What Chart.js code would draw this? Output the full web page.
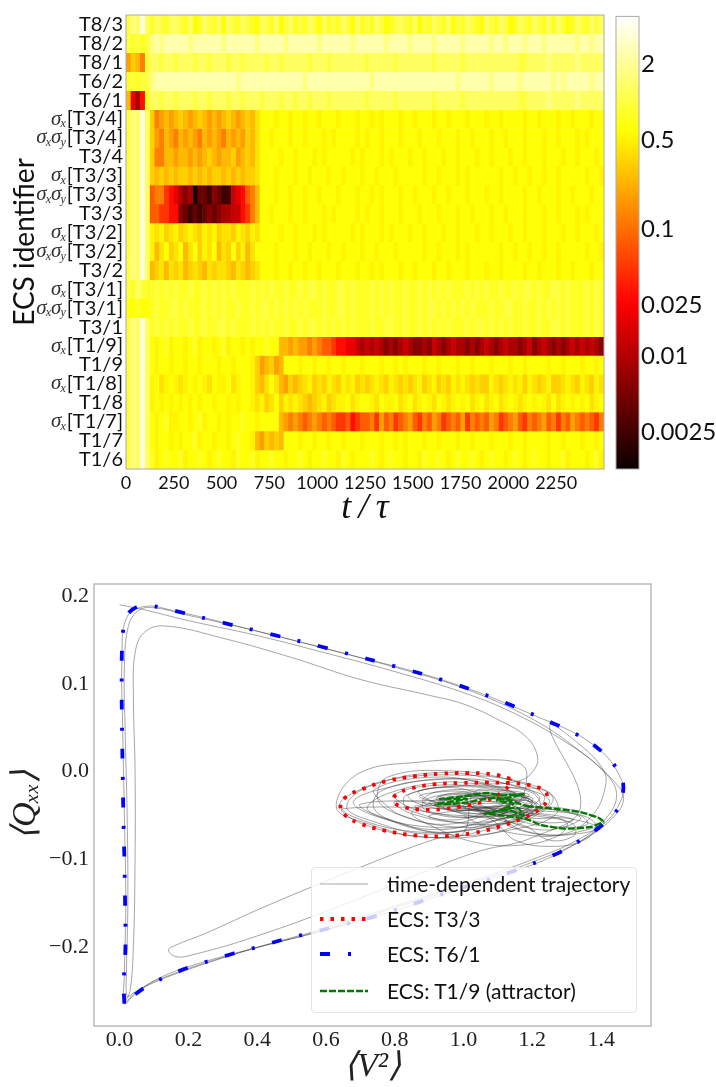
<!DOCTYPE html>
<html>
<head>
<meta charset="utf-8">
<script src="https://cdn.jsdelivr.net/npm/chart.js@4"></script>
<style>
  html, body { margin: 0; padding: 0; background: #fff; }
  #page { position: relative; width: 716px; height: 1087px; overflow: hidden; }
  canvas { position: absolute; filter: blur(0.45px); }
  #legend { position: absolute; left: 311px; top: 867px; width: 326px; height: 146px; box-sizing: border-box;
    background: rgba(255,255,255,0.8); border: 1px solid #e4e4e4; border-radius: 4px;
    font-family: "Lato", sans-serif; font-size: 21px; color: #111; filter: blur(0.3px); }
  .row { position: absolute; left: 8px; height: 30px; line-height: 30px; white-space: nowrap; }
  .row svg { position: absolute; left: 0; top: 11px; }
  .row span { position: absolute; left: 67px; }
</style>
</head>
<body>
<div id="page">
  <canvas id="heat" width="612" height="530" style="left:0;top:0"></canvas>
  <canvas id="bar" width="116" height="530" style="left:600px;top:0"></canvas>
  <canvas id="phase" width="716" height="527" style="left:0;top:560px"></canvas>
  <div id="legend"></div>
</div>
<script>
// ---------- top panel: distance to each ECS over time ----------
const rowLabels = ['T8/3', 'T8/2', 'T8/1', 'T6/2', 'T6/1', '[T3/4]', '[T3/4]', 'T3/4', '[T3/3]', '[T3/3]', 'T3/3', '[T3/2]',
  '[T3/2]', 'T3/2', '[T3/1]', '[T3/1]', 'T3/1', '[T1/9]', 'T1/9', '[T1/8]', 'T1/8', '[T1/7]', 'T1/7', 'T1/6'];
const rowPrefix = ['', '', '', '', '', 'x', 'xy', '', 'x', 'xy', '', 'x', 'xy', '', 'x', 'xy', '', 'x', '', 'x', '', 'x', '', ''];
const timeTicks = [0, 250, 500, 750, 1000, 1250, 1500, 1750, 2000, 2250];
const barTicks = [0.0025, 0.01, 0.025, 0.1, 0.5, 2];
const binWidth = 25;

// one letter per 25 time units, looked up in heatLevels
const heatLevels = [0.0016, 0.0025, 0.004, 0.006, 0.009, 0.013, 0.02, 0.03, 0.05, 0.08, 0.12, 0.18, 0.25, 0.33, 0.42, 0.52,
  0.62, 0.8, 1.0, 1.3, 1.7, 2.4, 3.5];
const t83 = 'sutwt rtsrt tsrtq rtsrt qtsrt srqts rtqst rsrts qtrsr tsqtr srtsq rstsr tqsrt srtqs rtsrq tsrts qrtsr tsrtr tsqrt srtst';
const t82 = 'srsrs uvuvv vvvuv vvvvv uvvvv vvuvv vvvuv vvvvv uvvvv vvuvv vvvvu vvvvu vvvvu vvvvv uvvvv vuvvu vvvuv vvuvv vvvvu vvuvv';
const t81 = 'lnmks ttstt sttts ttstt tstts tttts ttstt tttst ttstt ttttt stttt tsttt tttts ttttt stttt ttttt ttsst tttut ttttu ttttt';
const t62 = 'rsrss uvvvv vvvvv vvvvv vvvuv vvvvv vvvvv vvuvv vvvvv vvvvv vuvvv vvvvv vvvvv vvvvu vvvvv vuvvv vvuvv vvvvu vuvvv vvuvv';
const t61 = 'mgehr ttstt sttts ttstt tstts tttst ttstt sttst ttstt ttttt stttt tsttt tttts ttttt stttt ttttt ttsst tttut ttttu ttttt';
const sxT34 = 'sutwt nklml mnmlm nmlml mnmlm nmoqq qpqqp qqpqq pqqqp qqqpq qpqpq qqpqq pqqqp qqpqq qpqqq pqqpq qqqpq qpqqq pqqpq qqpqq';
const sxyT34 = 'sutwt nlkml kmlml kmlml kmlml nmoqq pqqqp qqpqq qpqpq qqqpq pqqpq qqpqq qpqqq pqqqp qqpqq qpqqp qqqpq qqpqq pqqqp qpqqq';
const t34 = 'sutwt nkkmm lmmlm lmnml mmnlm nmoqq qqpqq pqqqp qpqqq qqpqp qqqpq pqqqp qqpqq qpqqp qqqpq qpqqq pqqpq qqpqq qpqqp qqqpq';
const sxT33 = 'sutwt nmnmn mnnmn mnmnn mnmnm nnoqq qpqqq pqqpq qqpqq pqqqp qqpqq qpqqq qqpqq pqqqp qpqqq qqqpq qpqqp qqpqq pqqqq qpqqp';
const sxyT33 = 'sutwt jkkih gedea ccbdc bbfgh jkmqq qpqqp qqpqq pqqqp qqqpq qpqpq qqpqq pqqqp qqpqq qpqqq pqqpq qqqpq qpqqq pqqpq qqpqq';
const t33 = 'sutwt jjiih hdcbc bcdcd eeffh ikmqq pqqqp qqpqq qpqpq qqqpq pqqpq qqpqq qpqqq pqqqp qqpqq qpqqp qqqpq qqpqq pqqqp qpqqq';
const sxT32 = 'sutwt popno pnopo npopn oonpo npoqq qqpqq pqqqp qpqqq qqpqp qqqpq pqqqp qqpqq qpqqp qqqpq qpqqq pqqpq qqpqq qpqqp qqqpq';
const sxyT32 = 'sutwt pmoqn oqmoq npoqm onqnp moqqq qpqqq pqqpq qqpqq pqqqp qqpqq qpqqq qqpqq pqqqp qpqqq qqqpq qpqqp qqpqq pqqqq qpqqp';
const t32 = 'sutwt mnomo nomno nmono onmon mnoqq qpqqp qqpqq pqqqp qqqpq qpqpq qqpqq pqqqp qqpqq qpqqq pqqpq qqqpq qpqqq pqqpq qqpqq';
const sxT31 = 'srtsr rsrsr srrsr rsrsr srsrr rsrsr srrsr rsrss rsrrs srsrr rsrsr srrsr rsrsr srsrr rsrsr srrsr rsrss rsrrs srsrr rsrsr';
const sxyT31 = 'qqrqq rsrrs srsrr rsrsr srrsr rsrss rsrsr srsrr rsrrs srsrr rsrsr srrsr rsrss rsrsr srsrr rsrrs srrsr rsrsr srsrr rsrsr';
const t31 = 'sutwt rsrsr srrsr rsrrs srsrr rsrsr srrsr rsrss rsrsr srsrr rsrrs srrsr rsrsr srsrr rsrss rsrsr srrsr rsrrs srsrr rsrsr';
const sxT19 = 'sutwt qpqrp qqpqr pqqpq rpqqp qpqqr qqmml mllkl kjjih hggfe fefed edefe ddedf edefe edede fedef eedef defed edefe fefed';
const t19 = 'sutwt qpqqp qqpqq pqqqp qqpqq qpnlm nlmqq qpqqp qqpqq pqqqp qqqpq qpqpq qqpqq pqqqp qqpqq qpqqq pqqpq qqqpq qpqqq pqqpq';
const sxT18 = 'sutwt pqopq popqp qpoqp pqopq qpnmo qomln mnopn onpon popno nopon ponon opnop nonpo ponon npono popnp onopn nopon ponpo';
const t18 = 'sutwt pqpqp qpqpq pqqpq qpqpq qpopn oqnpo ponmn opnop pqopq qpoqp pqopq opqpo qpopq pqopq opqop qpopq pqpoq opqpq pqopq';
const sxT17 = 'sutwt qpqrp pqqpq rpqqp qpqqr qqpqq qqmlk lkjkl kjkji ijhij jkilj kijkl jikjl kijkj likjk jlkij kljik jkljk ikjlk jkjik';
const t17 = 'sutwt qpqqp qpqqr pqqpq qpqrq qpmln mnmqq qpqqp qqpqq pqqqp qqqpq qpqpq qqpqq pqqqp qqpqq qpqqq pqqpq qqqpq qpqqq pqqpq';
const t16 = 'sutwt rpqrq qrpqq rqpqr qqprq qrpqq rqqpq qrqpq qrqqp rqpqq qrqpq rqqpq qprqq rqpqr qqrqp qrqqp qrqpq rqqpq qrpqq qpqrp';
const heatRows = [t83, t82, t81, t62, t61, sxT34, sxyT34, t34, sxT33, sxyT33, t33, sxT32, sxyT32, t32, sxT31, sxyT31, t31,
  sxT19, t19, sxT18, t18, sxT17, t17, t16];

// ---------- bottom panel: state space curves, [<V^2>, <Qxx>] ----------
const ecsT33 = [[1.136, -0.008], [1.087, -0.003], [1.01, -0.0015], [0.932, -0.0023], [0.855, -0.0053], [0.777, -0.0106], [0.709, -0.0193],
  [0.661, -0.028], [0.642, -0.0383], [0.656, -0.0496], [0.7, -0.0591], [0.768, -0.0667], [0.855, -0.0724], [0.942, -0.0735], [1.029, -0.0697],
  [1.107, -0.0621], [1.175, -0.0523], [1.223, -0.042], [1.244, -0.0307], [1.233, -0.0212], [1.194, -0.0155], [1.136, -0.0129], [1.068, -0.0125],
  [0.99, -0.0129], [0.913, -0.0144], [0.845, -0.0193], [0.802, -0.0269], [0.797, -0.0345], [0.826, -0.0402], [0.874, -0.0432], [0.942, -0.0424],
  [1.01, -0.0383], [1.068, -0.0326], [1.112, -0.0231], [1.136, -0.0136], [1.136, -0.008]];
const ecsT61 = [[0.0137, -0.264], [0.012, -0.24], [0.017, -0.2], [0.016, -0.15], [0.014, -0.1], [0.011, -0.05], [0.009, 0], [0.007, 0.05],
  [0.006, 0.1], [0.007, 0.14], [0.012, 0.165], [0.025, 0.18], [0.05, 0.1875], [0.08, 0.1895], [0.152, 0.184], [0.29, 0.1706], [0.428, 0.1577],
  [0.593, 0.1417], [0.653, 0.1354], [0.8, 0.12], [0.95, 0.103], [1.1, 0.082], [1.261, 0.055], [1.322, 0.044], [1.383, 0.029], [1.434, 0.0098],
  [1.464, -0.013], [1.45, -0.041], [1.402, -0.061], [1.344, -0.077], [1.281, -0.0915], [1.218, -0.102], [1.155, -0.112], [0.942, -0.139],
  [0.753, -0.1635], [0.621, -0.177], [0.54, -0.185], [0.477, -0.191], [0.401, -0.1995], [0.331, -0.207], [0.266, -0.2147], [0.2, -0.223],
  [0.133, -0.2337], [0.07, -0.2465], [0.0137, -0.264]];
const ecsT19 = [[1.184, -0.0394], [1.262, -0.0421], [1.339, -0.0459], [1.393, -0.0527], [1.405, -0.0572], [1.368, -0.0629], [1.291, -0.0648],
  [1.223, -0.0603], [1.179, -0.0534], [1.107, -0.0496], [1.063, -0.0477], [1.126, -0.0439], [1.175, -0.0496], [1.155, -0.0409], [1.107, -0.0439],
  [1.145, -0.0364], [1.097, -0.0326], [1.175, -0.0258], [1.107, -0.0269], [1.068, -0.0242], [1.0, -0.028], [0.932, -0.0311], [1.01, -0.0311],
  [0.918, -0.0371], [1.0, -0.0356], [1.087, -0.0296], [1.136, -0.0326], [1.184, -0.0394]];

const trajLaps = [[0, 0.19], [0.07, 0.1845], [0.2, 0.172], [0.4, 0.155], [0.6, 0.135], [0.8, 0.114], [1.0, 0.09], [1.15, 0.066], [1.3, 0.033],
  [1.4, 0.003], [1.445, -0.025], [1.41, -0.055], [1.33, -0.078], [1.2, -0.1], [1.0, -0.128], [0.8, -0.153], [0.6, -0.178], [0.4, -0.2], [0.2, -0.225],
  [0.1, -0.24], [0.04, -0.252], [0.022, -0.256], [0.02, -0.23], [0.024, -0.15], [0.022, -0.05], [0.016, 0.05], [0.014, 0.12], [0.025, 0.165],
  [0.05, 0.182], [0.09, 0.187], [0.2, 0.178], [0.4, 0.16], [0.6, 0.14], [0.8, 0.119], [1.0, 0.095], [1.2, 0.06], [1.35, 0.02], [1.44, -0.012],
  [1.465, -0.03], [1.44, -0.05], [1.35, -0.077], [1.2, -0.103], [1.0, -0.13], [0.8, -0.155], [0.6, -0.18], [0.4, -0.2], [0.2, -0.222], [0.1, -0.238],
  [0.04, -0.255], [0.014, -0.264], [0.014, -0.23], [0.018, -0.15], [0.014, -0.05], [0.009, 0.05], [0.007, 0.13], [0.02, 0.175], [0.07, 0.188],
  [0.15, 0.184], [0.43, 0.157], [0.65, 0.135], [0.95, 0.103], [1.2, 0.065], [1.38, 0.03], [1.46, -0.01], [1.455, -0.035], [1.4, -0.062], [1.28, -0.092],
  [1.15, -0.113], [0.94, -0.14], [0.75, -0.164], [0.54, -0.186], [0.33, -0.208], [0.13, -0.234], [0.05, -0.25], [0.014, -0.264]];
const trajInner = [[0.03, -0.25], [0.04, -0.2], [0.045, -0.1], [0.045, 0], [0.04, 0.09], [0.045, 0.135], [0.07, 0.158], [0.13, 0.166], [0.3, 0.152],
  [0.5, 0.13], [0.7, 0.105], [0.9, 0.087], [1.0, 0.077], [1.107, 0.058], [1.184, 0.039], [1.215, 0.017], [1.204, 0.0015], [1.165, -0.01]];
const trajAttractor = [[1.07, -0.014], [0.94, -0.012], [0.786, -0.024], [0.72, -0.041], [0.773, -0.053], [0.918, -0.066], [1.072, -0.054], [1.16, -0.035],
  [1.184, -0.004], [1.165, 0.009], [1.068, 0.0136], [0.874, 0.011], [0.695, -0.002], [0.63, -0.04], [0.704, -0.057], [0.909, -0.075], [1.126, -0.059], [1.25, -0.034], [1.126, -0.014], [0.94, -0.001], [0.723, -0.017],
  [0.66, -0.04], [0.725, -0.055], [0.903, -0.071], [1.092, -0.056], [1.2, -0.035], [1.092, -0.018], [0.93, -0.006], [0.741, -0.02],
  [0.78, -0.04], [0.822, -0.05], [0.937, -0.06], [1.06, -0.05], [1.13, -0.035], [1.06, -0.026], [0.955, -0.018], [0.832, -0.027],
  [0.83, -0.04], [0.865, -0.047], [0.96, -0.055], [1.06, -0.047], [1.12, -0.034], [1.06, -0.028], [0.975, -0.022], [0.873, -0.029],
  [1.1, -0.05], [1.16, -0.065], [1.26, -0.072], [1.35, -0.067], [1.41, -0.057], [1.35, -0.047], [1.25, -0.04], [1.16, -0.042],
  [0.86, -0.039], [0.895, -0.046], [0.99, -0.052], [1.09, -0.046], [1.15, -0.033], [1.09, -0.03], [1.0, -0.025], [0.9, -0.03],
  [0.88, -0.04], [0.92, -0.047], [1.02, -0.052], [1.13, -0.046], [1.19, -0.032], [1.13, -0.028], [1.03, -0.025], [0.925, -0.03],
  [1.05, -0.04], [1.12, -0.055], [1.22, -0.066], [1.3, -0.062], [1.34, -0.052], [1.27, -0.044], [1.17, -0.038], [1.1, -0.036],
  [0.92, -0.038], [0.96, -0.044], [1.03, -0.048], [1.1, -0.044], [1.14, -0.034], [1.09, -0.03], [1.02, -0.028], [0.95, -0.032],
  [0.7, -0.037], [0.76, -0.052], [0.93, -0.069], [1.11, -0.058], [1.21, -0.04], [1.12, -0.02], [0.96, -0.008], [0.77, -0.019],
  [0.68, -0.034], [0.74, -0.05], [0.9, -0.063], [1.04, -0.06], [1.17, -0.045], [1.22, -0.028], [1.1, -0.012], [0.92, -0.009], [0.76, -0.022],
  [0.74, -0.042], [0.81, -0.058], [0.97, -0.072], [1.14, -0.066], [1.27, -0.048], [1.25, -0.024], [1.14, -0.018], [0.98, -0.016], [0.84, -0.026],
  [0.86, -0.035], [0.93, -0.042], [1.05, -0.044], [1.17, -0.04], [1.2, -0.03], [1.1, -0.025], [0.98, -0.028], [0.9, -0.035],
  [0.95, -0.042], [1.02, -0.05], [1.12, -0.053], [1.2, -0.047], [1.21, -0.036], [1.12, -0.032], [1.01, -0.033],
  [1.1, -0.06], [1.15, -0.078], [1.25, -0.085], [1.35, -0.078], [1.385, -0.06], [1.31, -0.046], [1.2, -0.043], [1.12, -0.05],
  [1.0, -0.036], [1.06, -0.045], [1.16, -0.05], [1.19, -0.04], [1.13, -0.03], [1.03, -0.027], [0.96, -0.031],
  [0.85, -0.046], [0.92, -0.064], [1.03, -0.08], [1.15, -0.084], [1.27, -0.074], [1.3, -0.058], [1.2, -0.048], [1.09, -0.046], [1.0, -0.04],
  [1.03, -0.032], [1.12, -0.029], [1.2, -0.036], [1.14, -0.044], [1.05, -0.046], [0.98, -0.04],
  [0.8, -0.034], [0.85, -0.048], [1.0, -0.058], [1.13, -0.052], [1.2, -0.04], [1.14, -0.024], [1.0, -0.017], [0.87, -0.022],
  [0.9, -0.032], [0.97, -0.038], [1.08, -0.04], [1.16, -0.035], [1.1, -0.03], [1.0, -0.03],
  [1.1, -0.045], [1.18, -0.058], [1.28, -0.063], [1.36, -0.06], [1.34, -0.05], [1.24, -0.045], [1.14, -0.045],
  [0.65, -0.042], [0.71, -0.06], [0.88, -0.074], [1.06, -0.072], [1.2, -0.052], [1.26, -0.03], [1.17, -0.012], [1.0, -0.004], [0.8, -0.008], [0.68, -0.024],
  [0.64, -0.038], [0.69, -0.053], [0.85, -0.068], [1.02, -0.066], [1.18, -0.05], [1.235, -0.028], [1.14, -0.01], [0.96, 0.001], [0.78, -0.006],
  [0.75, -0.03], [0.8, -0.047], [0.95, -0.062], [1.1, -0.06], [1.22, -0.044], [1.2, -0.024], [1.06, -0.017], [0.9, -0.016], [0.8, -0.026],
  [0.82, -0.036], [0.88, -0.045], [1.0, -0.05], [1.12, -0.05], [1.22, -0.04], [1.16, -0.027], [1.04, -0.021], [0.92, -0.023],
  [0.88, -0.034], [0.94, -0.04], [1.04, -0.042], [1.12, -0.038], [1.18, -0.03], [1.08, -0.024], [0.98, -0.024], [0.92, -0.03],
  [0.96, -0.036], [1.02, -0.04], [1.1, -0.038], [1.15, -0.028], [1.07, -0.027], [0.99, -0.03],
  [0.94, -0.04], [1.0, -0.046], [1.08, -0.048], [1.16, -0.043], [1.12, -0.036], [1.03, -0.036],
  [1.08, -0.052], [1.18, -0.062], [1.25, -0.078], [1.32, -0.073], [1.32, -0.06], [1.24, -0.052], [1.15, -0.05],
  [1.12, -0.058], [1.2, -0.07], [1.3, -0.072], [1.39, -0.064], [1.3, -0.053], [1.2, -0.053], [1.13, -0.047],
  [1.06, -0.04], [1.14, -0.05], [1.24, -0.058], [1.32, -0.055], [1.27, -0.05], [1.17, -0.046], [1.09, -0.042],
  [0.9, -0.05], [0.98, -0.058], [1.08, -0.06], [1.18, -0.054], [1.2, -0.045], [1.1, -0.04], [0.98, -0.044],
  [1.02, -0.03], [1.08, -0.034], [1.16, -0.032], [1.19, -0.026], [1.1, -0.021], [1.03, -0.024]];
const trajExit = [[1.0, -0.07], [0.923, -0.076], [0.705, -0.108], [0.42, -0.154], [0.25, -0.184], [0.16, -0.198], [0.142, -0.203], [0.16, -0.21], [0.196, -0.21],
  [0.4, -0.187], [0.7, -0.144], [0.923, -0.108], [1.05, -0.09], [1.2, -0.075], [1.34, -0.04], [1.25, 0.052], [1.34, 0.03], [1.407, 0.0015], [1.412, -0.0175],
  [1.378, -0.048], [1.3, -0.07], [1.18, -0.072], [1.05, -0.06], [1.0, -0.05]];
const trajectory = trajLaps.concat(trajInner, trajAttractor, trajExit);

const legendLabels = ['time-dependent trajectory', 'ECS: T3/3', 'ECS: T6/1', 'ECS: T1/9 (attractor)'];
const phaseXTicks = [0, 0.2, 0.4, 0.6, 0.8, 1.0, 1.2, 1.4];
const phaseYTicks = [-0.2, -0.1, 0, 0.1, 0.2];

// line styles, shared by the plot and the legend
const grayLine = { color: 'rgba(50,50,50,0.55)', width: 0.8, dash: [] };
const redLine = { color: '#ff0000', width: 3.8, dash: [3.5, 7] };
const blueLine = { color: '#0000ff', width: 3.8, dash: [10, 18, 3, 18] };
const greenLine = { color: '#007a00', width: 2.4, dash: [7, 2] };

const sansFont = '"Lato", sans-serif';
const serifFont = '"Liberation Serif", serif';

// matplotlib "hot", on the log scale of the colour bar
const barMin = 0.00129, barMax = 4.74;
function hotColor(t) {
  const r = Math.min(1, 0.0416 + t / 0.365 * 0.9584);
  const g = Math.max(0, Math.min(1, (t - 0.365) / 0.381));
  const b = Math.max(0, Math.min(1, (t - 0.746) / 0.254));
  return 'rgb(' + Math.round(r * 255) + ',' + Math.round(g * 255) + ',' + Math.round(b * 255) + ')';
}
function valueColor(v) {
  return hotColor(Math.log(v / barMin) / Math.log(barMax / barMin));
}
function decodeRow(row) {
  return row.replace(/ /g, '').split('').map(c => heatLevels[c.charCodeAt(0) - 97]);
}

const frame = {
  id: 'frame',
  afterDraw(chart, args, opts) {
    const a = chart.chartArea, ctx = chart.ctx;
    ctx.save();
    ctx.strokeStyle = opts.color;
    ctx.lineWidth = opts.width;
    ctx.strokeRect(a.left, a.top, a.right - a.left, a.bottom - a.top);
    ctx.restore();
  }
};

// the sigma_x / sigma_x sigma_y part of the row labels, left of the tick text
const rowSigmas = {
  id: 'rowSigmas',
  afterDraw(chart) {
    const ctx = chart.ctx, y = chart.scales.y;
    ctx.save();
    ctx.fillStyle = '#333';
    ctx.textBaseline = 'middle';
    ctx.textAlign = 'left';
    rowPrefix.forEach((prefix, i) => {
      if (!prefix) return;
      const py = y.getPixelForValue(i + 0.5);
      ctx.font = '20px ' + sansFont;
      let x = 123 - ctx.measureText(rowLabels[i]).width - 1;
      for (const sub of prefix.split('').reverse()) {
        ctx.font = 'italic 12px ' + serifFont;
        x -= ctx.measureText(sub).width;
        ctx.fillText(sub, x, py + 5);
        ctx.font = 'italic 21px ' + serifFont;
        x -= ctx.measureText('σ').width - 1;
        ctx.fillText('σ', x, py);
      }
    });
    ctx.restore();
  }
};

const heatDatasets = heatRows.map((row, r) => {
  const values = decodeRow(row);
  return {
    data: values.map((v, c) => ({ x: (c + 0.5) * binWidth, y: [r, r + 1] })),
    backgroundColor: values.map(valueColor),
    borderColor: values.map(valueColor),
    borderWidth: 0.4,
    borderSkipped: false,
    barPercentage: 1,
    categoryPercentage: 1,
    grouped: false
  };
});

new Chart(document.getElementById('heat'), {
  type: 'bar',
  data: { datasets: heatDatasets },
  plugins: [frame, rowSigmas],
  options: {
    responsive: false,
    animation: false,
    layout: { padding: { top: 12, right: 8, left: 8 } },
    plugins: { legend: { display: false }, tooltip: { enabled: false }, frame: { color: '#aaa', width: 1 } },
    scales: {
      x: {
        type: 'linear', min: 0, max: 2500, offset: false,
        grid: { display: false, drawTicks: false }, border: { display: false },
        afterBuildTicks: s => { s.ticks = timeTicks.map(v => ({ value: v })); },
        afterFit: s => { s.height = 61; },
        ticks: { autoSkip: false, maxRotation: 0, padding: 3, color: '#111', font: { family: sansFont, size: 18 }, callback: v => String(v) },
        title: { display: true, text: 't\u2009/\u2009τ', color: '#111', padding: { top: 0, bottom: 0 }, font: { family: serifFont, style: 'italic', size: 36 } }
      },
      y: {
        type: 'linear', min: 0, max: rowLabels.length, reverse: true,
        grid: { display: false, drawTicks: false }, border: { display: false },
        afterBuildTicks: s => { s.ticks = rowLabels.map((l, i) => ({ value: i + 0.5 })); },
        afterFit: s => { s.width = 118; },
        ticks: { autoSkip: false, padding: 3, color: '#111', font: { family: sansFont, size: 20 }, callback: (v, i) => rowLabels[i] },
        title: { display: true, text: 'ECS identifier', color: '#111', padding: 0, font: { family: sansFont, size: 28 } }
      }
    }
  }
});

// colour bar
new Chart(document.getElementById('bar'), {
  type: 'bar',
  data: {
    labels: [''],
    datasets: [{
      data: [[barMin, barMax]],
      barPercentage: 1,
      categoryPercentage: 1,
      borderSkipped: false,
      backgroundColor: ctx => {
        const a = ctx.chart.chartArea;
        if (!a) return '#000';
        const g = ctx.chart.ctx.createLinearGradient(0, a.bottom, 0, a.top);
        for (let i = 0; i <= 40; i++) g.addColorStop(i / 40, hotColor(i / 40));
        return g;
      }
    }]
  },
  plugins: [frame],
  options: {
    responsive: false,
    animation: false,
    layout: { padding: { top: 12, left: 16, bottom: 61 } },
    plugins: { legend: { display: false }, tooltip: { enabled: false }, frame: { color: '#aaa', width: 1 } },
    scales: {
      x: { display: false },
      y: {
        type: 'logarithmic', position: 'right', min: barMin, max: barMax,
        grid: { display: false, drawTicks: false }, border: { display: false },
        afterBuildTicks: s => { s.ticks = barTicks.map(v => ({ value: v })); },
        afterFit: s => { s.width = 77; },
        ticks: { autoSkip: false, padding: 2, color: '#111', font: { family: sansFont, size: 24 }, callback: v => String(v) }
      }
    }
  }
});

// bottom panel
function curve(points, style, order, tension) {
  return {
    data: points.map(p => ({ x: p[0], y: p[1] })),
    showLine: true,
    pointRadius: 0,
    borderColor: style.color,
    borderWidth: style.width,
    borderDash: style.dash,
    tension: tension,
    order: order
  };
}

new Chart(document.getElementById('phase'), {
  type: 'scatter',
  data: {
    datasets: [
      curve(trajectory, grayLine, 3, 0.4),
      curve(ecsT33, redLine, 2, 0.4),
      curve(ecsT61, blueLine, 1, 0.35),
      curve(ecsT19, greenLine, 0, 0.2)
    ]
  },
  plugins: [frame],
  options: {
    responsive: false,
    animation: false,
    layout: { padding: { top: 24, right: 65, left: 6 } },
    plugins: { legend: { display: false }, tooltip: { enabled: false }, frame: { color: '#bbb', width: 1.5 } },
    scales: {
      x: {
        type: 'linear', min: -0.0744, max: 1.545,
        grid: { display: false, drawTicks: true, tickLength: 3, tickColor: '#bbb' }, border: { display: false },
        afterBuildTicks: s => { s.ticks = phaseXTicks.map(v => ({ value: v })); },
        afterFit: s => { s.height = 61; },
        ticks: { autoSkip: false, maxRotation: 0, padding: -2, color: '#222', font: { family: serifFont, size: 22 }, callback: v => v.toFixed(1) },
        title: { display: true, text: '⟨V²⟩', color: '#222', padding: 0, font: { family: serifFont, style: 'italic', size: 34 } }
      },
      y: {
        type: 'linear', min: -0.2895, max: 0.2137,
        grid: { display: false, drawTicks: true, tickLength: 3, tickColor: '#bbb' }, border: { display: false },
        afterBuildTicks: s => { s.ticks = phaseYTicks.map(v => ({ value: v })); },
        afterFit: s => { s.width = 88; },
        ticks: { autoSkip: false, padding: 2, color: '#222', font: { family: serifFont, size: 22 }, callback: v => (v < 0 ? '−' : '') + Math.abs(v).toFixed(1) },
        title: { display: true, text: '⟨Qₓₓ⟩', color: '#222', padding: 0, font: { family: serifFont, style: 'italic', size: 34 } }
      }
    }
  }
});

// legend box, semi transparent over the curves like the original
const legendStyles = [grayLine, redLine, blueLine, greenLine];
const legendTops = [1, 36, 71, 108];
document.getElementById('legend').innerHTML = legendLabels.map((label, i) => {
  const s = legendStyles[i];
  return '<div class="row" style="top:' + legendTops[i] + 'px"><svg width="50" height="8"><line x1="0" y1="4" x2="48" y2="4" stroke="' +
    s.color + '" stroke-width="' + s.width + '" stroke-dasharray="' + s.dash.join(' ') + '"/></svg><span>' + label + '</span></div>';
}).join('');
</script>
</body>
</html>
